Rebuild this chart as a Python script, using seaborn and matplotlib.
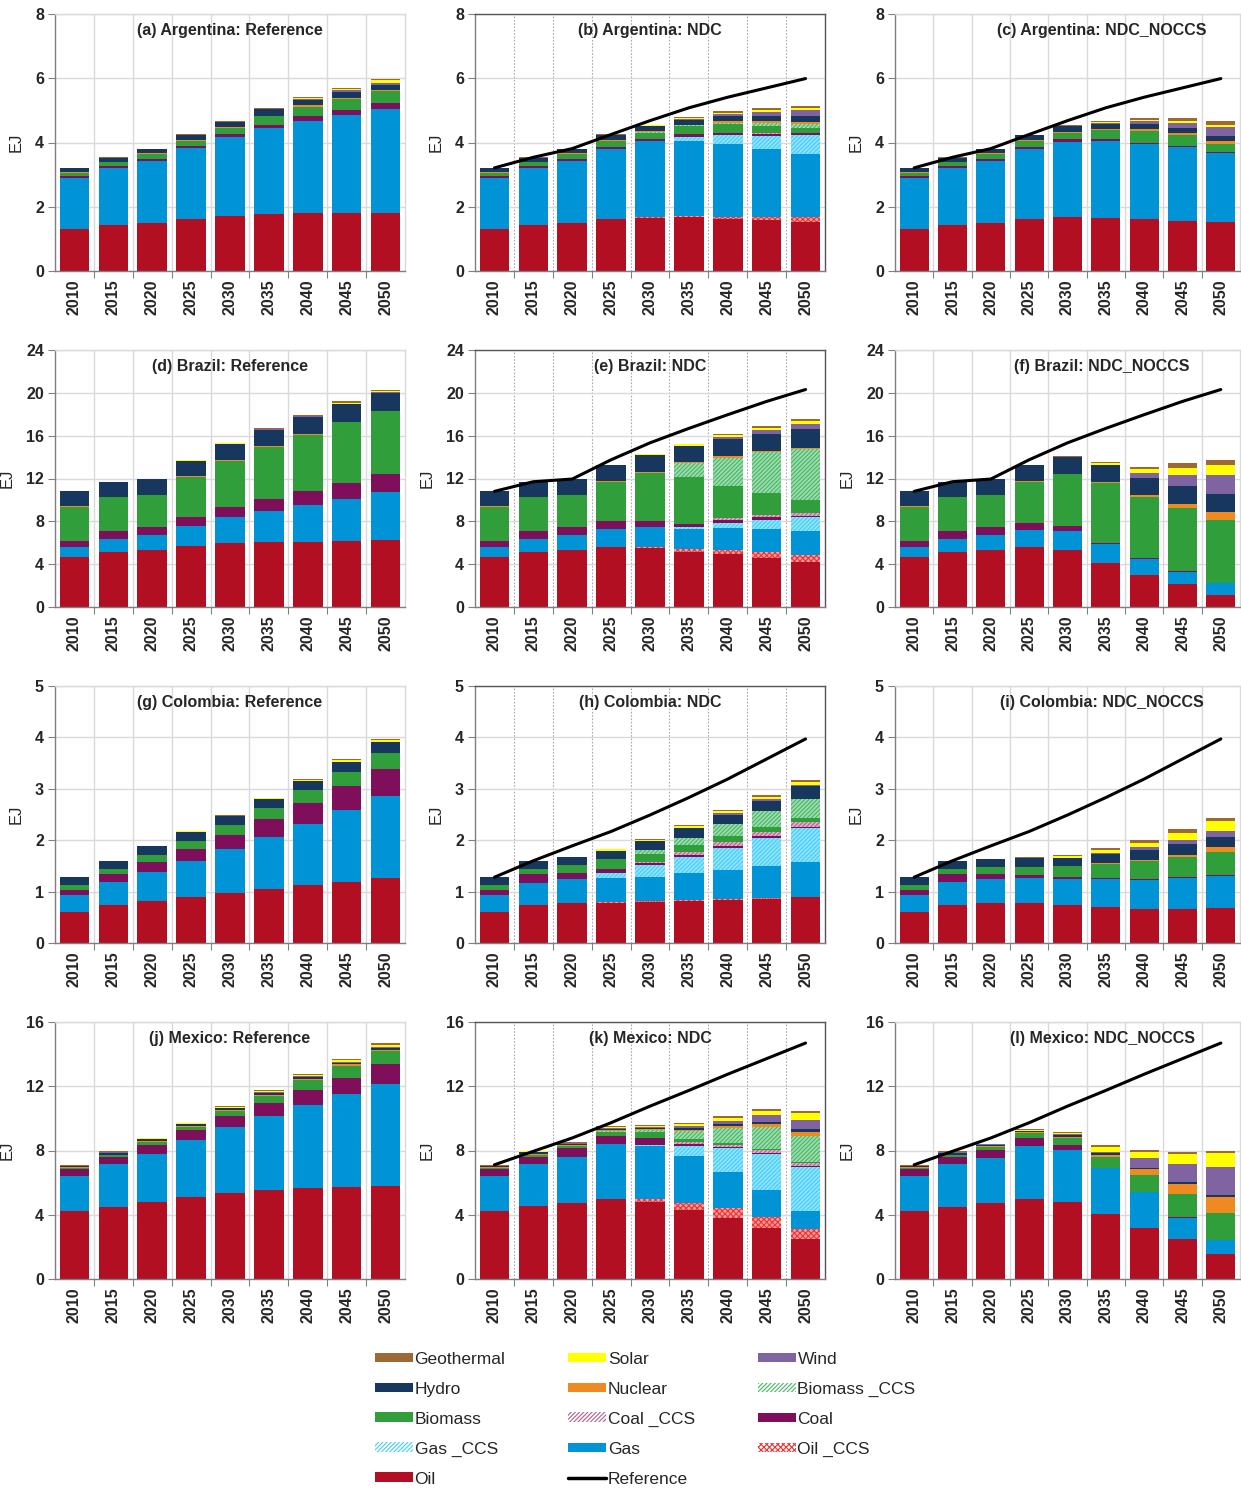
import numpy as np
import pandas as pd
import matplotlib
matplotlib.use("Agg")
import matplotlib.pyplot as plt
import seaborn as sns
from matplotlib.patches import Patch
from matplotlib.lines import Line2D

# ---------------- data ----------------
YEARS = ["2010", "2015", "2020", "2025", "2030", "2035", "2040", "2045", "2050"]
TECHS = ["Oil", "Oil_CCS", "Gas", "Gas_CCS", "Coal", "Coal_CCS", "Biomass",
         "Biomass_CCS", "Nuclear", "Hydro", "Wind", "Solar", "Geothermal"]

ARG_REF = {
    "Oil":        [1.32, 1.43, 1.49, 1.62, 1.71, 1.76, 1.79, 1.80, 1.81],
    "Gas":        [1.58, 1.78, 1.94, 2.20, 2.45, 2.69, 2.87, 3.06, 3.23],
    "Coal":       [0.05, 0.05, 0.07, 0.07, 0.09, 0.11, 0.15, 0.16, 0.18],
    "Biomass":    [0.11, 0.12, 0.13, 0.17, 0.20, 0.25, 0.31, 0.34, 0.37],
    "Nuclear":    [0.02, 0.02, 0.03, 0.03, 0.03, 0.03, 0.04, 0.04, 0.05],
    "Hydro":      [0.12, 0.13, 0.14, 0.14, 0.17, 0.19, 0.17, 0.18, 0.16],
    "Wind":       [0.00, 0.00, 0.00, 0.00, 0.00, 0.01, 0.03, 0.04, 0.06],
    "Solar":      [0.00, 0.00, 0.00, 0.00, 0.00, 0.01, 0.02, 0.04, 0.07],
    "Geothermal": [0.01, 0.01, 0.01, 0.02, 0.03, 0.03, 0.03, 0.04, 0.06],
}
ARG_NDC = {
    "Oil":         [1.32, 1.43, 1.49, 1.62, 1.66, 1.67, 1.63, 1.58, 1.54],
    "Oil_CCS":     [0.00, 0.00, 0.00, 0.00, 0.01, 0.04, 0.06, 0.10, 0.13],
    "Gas":         [1.58, 1.78, 1.94, 2.19, 2.37, 2.34, 2.27, 2.12, 1.96],
    "Gas_CCS":     [0.00, 0.00, 0.00, 0.00, 0.00, 0.13, 0.26, 0.41, 0.59],
    "Coal":        [0.05, 0.05, 0.07, 0.06, 0.08, 0.08, 0.07, 0.07, 0.07],
    "Coal_CCS":    [0.00, 0.00, 0.00, 0.00, 0.00, 0.00, 0.02, 0.03, 0.02],
    "Biomass":     [0.11, 0.12, 0.13, 0.19, 0.19, 0.24, 0.26, 0.19, 0.13],
    "Biomass_CCS": [0.00, 0.00, 0.00, 0.00, 0.03, 0.03, 0.05, 0.12, 0.14],
    "Nuclear":     [0.02, 0.02, 0.03, 0.03, 0.03, 0.02, 0.04, 0.04, 0.06],
    "Hydro":       [0.12, 0.13, 0.14, 0.15, 0.14, 0.15, 0.15, 0.17, 0.17],
    "Wind":        [0.00, 0.00, 0.00, 0.00, 0.00, 0.03, 0.07, 0.13, 0.19],
    "Solar":       [0.00, 0.00, 0.00, 0.00, 0.02, 0.03, 0.05, 0.06, 0.06],
    "Geothermal":  [0.01, 0.01, 0.01, 0.01, 0.02, 0.03, 0.04, 0.05, 0.07],
}
ARG_NOCCS = {
    "Oil":        [1.32, 1.43, 1.49, 1.62, 1.67, 1.66, 1.61, 1.57, 1.54],
    "Gas":        [1.58, 1.78, 1.94, 2.19, 2.36, 2.39, 2.34, 2.28, 2.14],
    "Coal":       [0.05, 0.05, 0.07, 0.06, 0.07, 0.06, 0.05, 0.04, 0.03],
    "Biomass":    [0.11, 0.12, 0.13, 0.19, 0.21, 0.28, 0.36, 0.35, 0.23],
    "Nuclear":    [0.02, 0.02, 0.03, 0.02, 0.03, 0.03, 0.05, 0.06, 0.10],
    "Hydro":      [0.12, 0.13, 0.14, 0.14, 0.16, 0.16, 0.16, 0.14, 0.16],
    "Wind":       [0.00, 0.00, 0.00, 0.00, 0.00, 0.02, 0.09, 0.18, 0.29],
    "Solar":      [0.00, 0.00, 0.00, 0.00, 0.02, 0.04, 0.05, 0.05, 0.07],
    "Geothermal": [0.01, 0.01, 0.01, 0.01, 0.02, 0.03, 0.05, 0.09, 0.10],
}

BRA_REF = {
    "Oil":        [4.64, 5.14, 5.36, 5.73, 5.98, 6.10, 6.10, 6.13, 6.28],
    "Gas":        [0.96, 1.24, 1.36, 1.79, 2.38, 2.85, 3.40, 3.96, 4.43],
    "Coal":       [0.59, 0.74, 0.71, 0.90, 0.99, 1.17, 1.34, 1.52, 1.67],
    "Biomass":    [3.16, 3.13, 3.00, 3.72, 4.30, 4.83, 5.26, 5.63, 5.89],
    "Nuclear":    [0.05, 0.05, 0.05, 0.06, 0.06, 0.06, 0.06, 0.06, 0.07],
    "Hydro":      [1.40, 1.40, 1.47, 1.45, 1.52, 1.55, 1.61, 1.62, 1.69],
    "Wind":       [0.00, 0.00, 0.00, 0.00, 0.02, 0.02, 0.03, 0.05, 0.06],
    "Solar":      [0.00, 0.00, 0.00, 0.05, 0.05, 0.05, 0.08, 0.12, 0.10],
    "Geothermal": [0.00, 0.00, 0.00, 0.05, 0.03, 0.05, 0.08, 0.11, 0.12],
}
BRA_NDC = {
    "Oil":         [4.64, 5.14, 5.36, 5.58, 5.51, 5.17, 4.92, 4.55, 4.24],
    "Oil_CCS":     [0.00, 0.00, 0.00, 0.02, 0.09, 0.28, 0.41, 0.59, 0.65],
    "Gas":         [0.96, 1.24, 1.36, 1.68, 1.83, 1.83, 2.04, 2.14, 2.20],
    "Gas_CCS":     [0.00, 0.00, 0.00, 0.00, 0.00, 0.18, 0.52, 0.86, 1.30],
    "Coal":        [0.59, 0.74, 0.71, 0.71, 0.56, 0.31, 0.25, 0.25, 0.15],
    "Coal_CCS":    [0.00, 0.00, 0.00, 0.00, 0.00, 0.00, 0.13, 0.22, 0.22],
    "Biomass":     [3.16, 3.13, 3.00, 3.68, 4.49, 4.40, 3.03, 2.01, 1.24],
    "Biomass_CCS": [0.00, 0.00, 0.00, 0.00, 0.06, 1.24, 2.66, 3.81, 4.77],
    "Nuclear":     [0.05, 0.05, 0.05, 0.06, 0.06, 0.10, 0.10, 0.12, 0.12],
    "Hydro":       [1.40, 1.40, 1.47, 1.49, 1.55, 1.57, 1.67, 1.64, 1.74],
    "Wind":        [0.00, 0.00, 0.00, 0.00, 0.00, 0.00, 0.12, 0.31, 0.43],
    "Solar":       [0.00, 0.00, 0.00, 0.04, 0.12, 0.12, 0.22, 0.22, 0.31],
    "Geothermal":  [0.00, 0.00, 0.00, 0.00, 0.00, 0.00, 0.12, 0.18, 0.22],
}
BRA_NOCCS = {
    "Oil":        [4.64, 5.14, 5.36, 5.60, 5.33, 4.15, 3.00, 2.14, 1.08],
    "Gas":        [0.96, 1.24, 1.36, 1.61, 1.76, 1.70, 1.49, 1.17, 1.12],
    "Coal":       [0.59, 0.74, 0.71, 0.62, 0.50, 0.13, 0.06, 0.05, 0.06],
    "Biomass":    [3.16, 3.13, 3.00, 3.84, 4.79, 5.57, 5.70, 5.84, 5.88],
    "Nuclear":    [0.05, 0.05, 0.05, 0.06, 0.08, 0.12, 0.21, 0.46, 0.71],
    "Hydro":      [1.40, 1.40, 1.47, 1.49, 1.56, 1.55, 1.61, 1.64, 1.68],
    "Wind":       [0.00, 0.00, 0.00, 0.00, 0.00, 0.00, 0.41, 1.02, 1.76],
    "Solar":      [0.00, 0.00, 0.00, 0.00, 0.00, 0.25, 0.37, 0.65, 0.96],
    "Geothermal": [0.00, 0.00, 0.00, 0.00, 0.07, 0.06, 0.25, 0.44, 0.47],
}

COL_REF = {
    "Oil":        [0.60, 0.73, 0.82, 0.89, 0.98, 1.05, 1.12, 1.19, 1.26],
    "Gas":        [0.33, 0.45, 0.56, 0.70, 0.84, 1.02, 1.20, 1.39, 1.60],
    "Coal":       [0.11, 0.16, 0.20, 0.24, 0.29, 0.35, 0.41, 0.47, 0.53],
    "Biomass":    [0.08, 0.10, 0.13, 0.15, 0.18, 0.20, 0.24, 0.27, 0.30],
    "Hydro":      [0.16, 0.16, 0.17, 0.18, 0.18, 0.19, 0.19, 0.21, 0.22],
    "Solar":      [0.00, 0.00, 0.01, 0.01, 0.01, 0.01, 0.02, 0.03, 0.03],
    "Geothermal": [0.00, 0.00, 0.00, 0.00, 0.01, 0.01, 0.01, 0.02, 0.03],
}
COL_NDC = {
    "Oil":         [0.60, 0.73, 0.77, 0.78, 0.80, 0.82, 0.84, 0.86, 0.89],
    "Oil_CCS":     [0.00, 0.00, 0.00, 0.01, 0.01, 0.01, 0.01, 0.01, 0.01],
    "Gas":         [0.33, 0.44, 0.48, 0.48, 0.48, 0.53, 0.57, 0.63, 0.68],
    "Gas_CCS":     [0.00, 0.00, 0.00, 0.10, 0.23, 0.32, 0.43, 0.55, 0.65],
    "Coal":        [0.11, 0.17, 0.12, 0.07, 0.04, 0.03, 0.03, 0.03, 0.03],
    "Coal_CCS":    [0.00, 0.00, 0.00, 0.00, 0.02, 0.06, 0.08, 0.07, 0.09],
    "Biomass":     [0.08, 0.10, 0.14, 0.19, 0.16, 0.13, 0.12, 0.11, 0.09],
    "Biomass_CCS": [0.00, 0.00, 0.00, 0.00, 0.06, 0.15, 0.23, 0.31, 0.36],
    "Hydro":       [0.16, 0.16, 0.17, 0.16, 0.19, 0.19, 0.19, 0.20, 0.25],
    "Wind":        [0.00, 0.00, 0.00, 0.00, 0.00, 0.00, 0.03, 0.03, 0.03],
    "Solar":       [0.00, 0.00, 0.00, 0.03, 0.01, 0.03, 0.03, 0.04, 0.05],
    "Geothermal":  [0.00, 0.00, 0.00, 0.00, 0.02, 0.02, 0.03, 0.04, 0.04],
}
COL_NOCCS = {
    "Oil":        [0.60, 0.73, 0.77, 0.77, 0.74, 0.70, 0.67, 0.67, 0.68],
    "Gas":        [0.33, 0.45, 0.48, 0.49, 0.51, 0.54, 0.55, 0.59, 0.63],
    "Coal":       [0.11, 0.16, 0.10, 0.06, 0.03, 0.02, 0.02, 0.02, 0.02],
    "Biomass":    [0.08, 0.10, 0.13, 0.16, 0.21, 0.28, 0.36, 0.40, 0.44],
    "Nuclear":    [0.00, 0.00, 0.00, 0.00, 0.00, 0.02, 0.02, 0.04, 0.09],
    "Hydro":      [0.16, 0.16, 0.16, 0.17, 0.17, 0.17, 0.19, 0.20, 0.21],
    "Wind":       [0.00, 0.00, 0.00, 0.00, 0.00, 0.02, 0.05, 0.08, 0.10],
    "Solar":      [0.00, 0.00, 0.00, 0.00, 0.03, 0.05, 0.08, 0.14, 0.20],
    "Geothermal": [0.00, 0.00, 0.00, 0.02, 0.03, 0.04, 0.06, 0.07, 0.07],
}

MEX_REF = {
    "Oil":        [4.21, 4.50, 4.79, 5.10, 5.35, 5.54, 5.64, 5.70, 5.76],
    "Gas":        [2.22, 2.63, 3.02, 3.54, 4.09, 4.63, 5.19, 5.79, 6.41],
    "Coal":       [0.39, 0.45, 0.56, 0.62, 0.70, 0.80, 0.93, 1.05, 1.20],
    "Biomass":    [0.10, 0.11, 0.18, 0.20, 0.31, 0.41, 0.60, 0.72, 0.80],
    "Nuclear":    [0.04, 0.06, 0.06, 0.06, 0.06, 0.08, 0.08, 0.10, 0.08],
    "Hydro":      [0.06, 0.10, 0.09, 0.11, 0.11, 0.15, 0.12, 0.11, 0.11],
    "Wind":       [0.03, 0.04, 0.03, 0.04, 0.05, 0.05, 0.05, 0.06, 0.10],
    "Solar":      [0.00, 0.02, 0.02, 0.02, 0.05, 0.04, 0.08, 0.09, 0.10],
    "Geothermal": [0.06, 0.04, 0.03, 0.04, 0.04, 0.04, 0.06, 0.10, 0.13],
}
MEX_NDC = {
    "Oil":         [4.21, 4.52, 4.76, 4.97, 4.82, 4.27, 3.77, 3.16, 2.46],
    "Oil_CCS":     [0.00, 0.00, 0.00, 0.04, 0.17, 0.47, 0.63, 0.69, 0.63],
    "Gas":         [2.22, 2.62, 2.86, 3.39, 3.28, 2.90, 2.29, 1.69, 1.12],
    "Gas_CCS":     [0.00, 0.00, 0.00, 0.00, 0.09, 0.65, 1.46, 2.23, 2.78],
    "Coal":        [0.39, 0.46, 0.51, 0.53, 0.40, 0.09, 0.08, 0.08, 0.04],
    "Coal_CCS":    [0.00, 0.00, 0.00, 0.00, 0.00, 0.15, 0.13, 0.21, 0.22],
    "Biomass":     [0.10, 0.12, 0.14, 0.23, 0.40, 0.16, 0.12, 0.05, 0.04],
    "Biomass_CCS": [0.00, 0.00, 0.00, 0.06, 0.10, 0.53, 0.95, 1.36, 1.64],
    "Nuclear":     [0.04, 0.06, 0.06, 0.06, 0.06, 0.08, 0.11, 0.17, 0.25],
    "Hydro":       [0.06, 0.10, 0.08, 0.08, 0.08, 0.11, 0.12, 0.15, 0.13],
    "Wind":        [0.03, 0.04, 0.04, 0.04, 0.08, 0.13, 0.17, 0.42, 0.59],
    "Solar":       [0.00, 0.02, 0.02, 0.07, 0.04, 0.08, 0.21, 0.27, 0.46],
    "Geothermal":  [0.06, 0.04, 0.03, 0.04, 0.06, 0.08, 0.13, 0.11, 0.13],
}
MEX_NOCCS = {
    "Oil":        [4.21, 4.50, 4.71, 5.00, 4.79, 4.03, 3.16, 2.48, 1.55],
    "Gas":        [2.22, 2.63, 2.83, 3.29, 3.27, 2.85, 2.23, 1.34, 0.87],
    "Coal":       [0.39, 0.45, 0.48, 0.51, 0.29, 0.06, 0.02, 0.02, 0.02],
    "Biomass":    [0.10, 0.11, 0.20, 0.27, 0.45, 0.66, 1.04, 1.45, 1.67],
    "Nuclear":    [0.04, 0.06, 0.05, 0.06, 0.07, 0.15, 0.37, 0.62, 0.97],
    "Hydro":      [0.06, 0.10, 0.07, 0.07, 0.08, 0.08, 0.12, 0.14, 0.17],
    "Wind":       [0.03, 0.04, 0.04, 0.04, 0.06, 0.10, 0.58, 1.14, 1.75],
    "Solar":      [0.00, 0.02, 0.02, 0.04, 0.08, 0.29, 0.37, 0.62, 0.87],
    "Geothermal": [0.06, 0.04, 0.03, 0.04, 0.08, 0.13, 0.13, 0.12, 0.13],
}

PANEL_TITLES = [
    "(a) Argentina: Reference", "(b) Argentina: NDC", "(c) Argentina: NDC_NOCCS",
    "(d) Brazil: Reference", "(e) Brazil: NDC", "(f) Brazil: NDC_NOCCS",
    "(g) Colombia: Reference", "(h) Colombia: NDC", "(i) Colombia: NDC_NOCCS",
    "(j) Mexico: Reference", "(k) Mexico: NDC", "(l) Mexico: NDC_NOCCS",
]
PANEL_DATA = [ARG_REF, ARG_NDC, ARG_NOCCS, BRA_REF, BRA_NDC, BRA_NOCCS,
              COL_REF, COL_NDC, COL_NOCCS, MEX_REF, MEX_NDC, MEX_NOCCS]
Y_MAX = [8, 24, 5, 16]
Y_STEP = [2, 4, 1, 4]

LEGEND_LABELS = {"Oil": "Oil", "Oil_CCS": "Oil _CCS", "Gas": "Gas", "Gas_CCS": "Gas _CCS",
                 "Coal": "Coal", "Coal_CCS": "Coal _CCS", "Biomass": "Biomass",
                 "Biomass_CCS": "Biomass _CCS", "Nuclear": "Nuclear", "Hydro": "Hydro",
                 "Wind": "Wind", "Solar": "Solar", "Geothermal": "Geothermal"}

# ---------------- styles ----------------
STYLE = {
    "Oil":         dict(face="#b20f22", edge="#b20f22", hatch=None),
    "Oil_CCS":     dict(face="#ff9c9c", edge="#f23030", hatch="xxxxxx"),
    "Gas":         dict(face="#0093d5", edge="#0093d5", hatch=None),
    "Gas_CCS":     dict(face="#8fe4ff", edge="#45cdf5", hatch="////////"),
    "Coal":        dict(face="#7f0f5b", edge="#7f0f5b", hatch=None),
    "Coal_CCS":    dict(face="#dcb2c9", edge="#b0628e", hatch="////////"),
    "Biomass":     dict(face="#2f9e3b", edge="#2f9e3b", hatch=None),
    "Biomass_CCS": dict(face="#9edcae", edge="#45b664", hatch="////////"),
    "Nuclear":     dict(face="#ef8a22", edge="#ef8a22", hatch=None),
    "Hydro":       dict(face="#17375e", edge="#17375e", hatch=None),
    "Wind":        dict(face="#8064a2", edge="#8064a2", hatch=None),
    "Solar":       dict(face="#ffff00", edge="#ffff00", hatch=None),
    "Geothermal":  dict(face="#9c6934", edge="#9c6934", hatch=None),
}

sns.set_theme(style="whitegrid")
plt.rcParams["font.family"] = ["Liberation Sans", "DejaVu Sans"]
plt.rcParams["hatch.linewidth"] = 0.8

W, H = 1241, 1491
fig = plt.figure(figsize=(W / 100, H / 100), dpi=100)

col_left = [55, 475, 895]
col_width = [350, 350, 345]
row_top = [14, 350, 686, 1022]
ax_h = 257
title_x = [0.5, 0.5, 0.6]

x_pos = np.arange(len(YEARS))

for i, (title, data) in enumerate(zip(PANEL_TITLES, PANEL_DATA)):
    r, c = divmod(i, 3)
    left = col_left[c] / W
    bottom_f = 1 - (row_top[r] + ax_h) / H
    ax = fig.add_axes([left, bottom_f, col_width[c] / W, ax_h / H])

    df = pd.DataFrame({t: data.get(t, [0.0] * len(YEARS)) for t in TECHS}, index=YEARS)
    base = np.zeros(len(YEARS))
    for t in TECHS:
        vals = df[t].to_numpy(dtype=float)
        if vals.sum() > 0:
            st = STYLE[t]
            n_before = len(ax.patches)
            sns.barplot(x=YEARS, y=vals, ax=ax, color=st["face"], saturation=1,
                        width=0.76, errorbar=None, bottom=base.copy(), legend=False)
            for p in ax.patches[n_before:]:
                p.set_facecolor(st["face"])
                p.set_edgecolor(st["edge"])
                p.set_linewidth(0)
                if st["hatch"]:
                    p.set_hatch(st["hatch"])
        base += vals

    if c > 0:
        ref = PANEL_DATA[r * 3]
        ref_total = np.sum([np.array(v, float) for v in ref.values()], axis=0)
        sns.lineplot(x=x_pos, y=ref_total, ax=ax, color="black", linewidth=2.2,
                     legend=False)

    ymax, ystep = Y_MAX[r], Y_STEP[r]
    ax.set_xlim(-0.5, len(YEARS) - 0.5)
    ax.set_ylim(0, ymax)
    ax.set_yticks(np.arange(0, ymax + 0.001, ystep))
    ax.set_xticks(x_pos)
    ax.set_xticklabels(YEARS, rotation=90, fontweight="bold", fontsize=11.5)
    ax.set_yticklabels([f"{v:g}" for v in np.arange(0, ymax + 0.001, ystep)],
                       fontweight="bold", fontsize=11.5)
    ax.set_xticks(np.arange(0.5, len(YEARS) - 1, 1.0), minor=True)
    ax.tick_params(axis="x", which="major", length=0, pad=6)
    ax.tick_params(axis="x", which="minor", length=5, width=0.8, color="#808080",
                   direction="out", bottom=True)
    ax.tick_params(axis="y", which="major", length=5, width=0.8, color="#808080",
                   direction="out", left=True, pad=3)
    ax.set_xlabel("")
    ax.set_ylabel("EJ", fontsize=12, labelpad=8)

    ax.grid(False)
    ax.yaxis.grid(True, color="#d9d9d9", linewidth=1)
    if c == 1:
        ax.xaxis.grid(True, which="minor", color="#aaaaaa", linewidth=0.8,
                      linestyle=(0, (1.5, 1.5)))
    else:
        ax.xaxis.grid(True, which="minor", color="#d9d9d9", linewidth=1)
    ax.set_axisbelow(True)

    for s in ["left", "bottom"]:
        ax.spines[s].set_color("#7f7f7f")
        ax.spines[s].set_linewidth(1.0)
    for s in ["top", "right"]:
        ax.spines[s].set_color("#555555" if c == 1 else "#d9d9d9")
        ax.spines[s].set_linewidth(1.0)

    ax.text(title_x[c], 0.935, title, transform=ax.transAxes, ha="center",
            va="center", fontsize=11.5, fontweight="bold", zorder=10)

# ---------------- legend ----------------
order = ["Geothermal", "Hydro", "Biomass", "Gas_CCS", "Oil",
         "Solar", "Nuclear", "Coal_CCS", "Gas", "Reference",
         "Wind", "Biomass_CCS", "Coal", "Oil_CCS"]
handles, labels = [], []
for key in order:
    if key == "Reference":
        handles.append(Line2D([0], [0], color="black", linewidth=2.5))
        labels.append("Reference")
    else:
        st = STYLE[key]
        handles.append(Patch(facecolor=st["face"] if not st["hatch"] else "white",
                             edgecolor=st["edge"], hatch=st["hatch"], linewidth=0))
        labels.append(LEGEND_LABELS[key])

fig.legend(handles, labels, ncol=3, loc="upper left",
           bbox_to_anchor=(366 / W, 1 - 1343 / H), frameon=False, fontsize=12.5,
           handlelength=2.2, handleheight=0.5, handletextpad=0.1,
           labelspacing=0.86, columnspacing=3.6, borderpad=0)

fig.savefig("out.png", dpi=100)
